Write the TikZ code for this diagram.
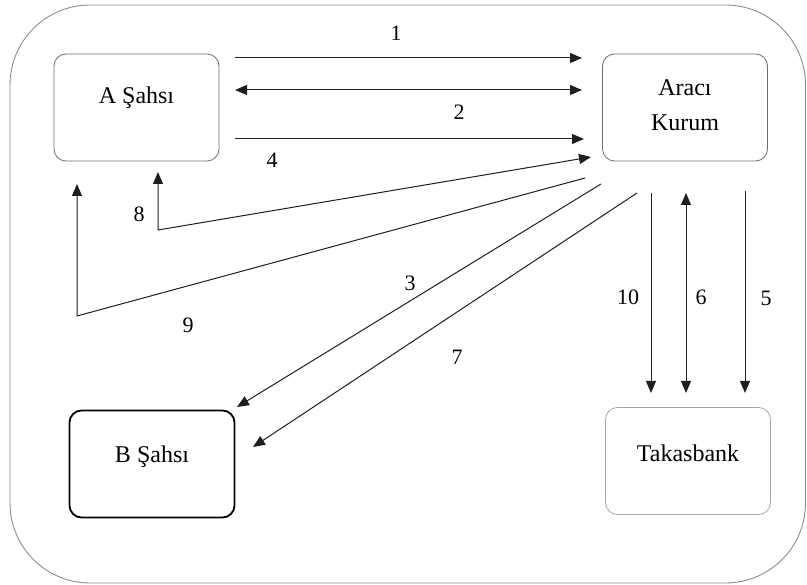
\documentclass[tikz,border=0pt]{standalone}
\usepackage{fontspec}
\setmainfont{Liberation Serif}
\usetikzlibrary{arrows.meta}
\definecolor{framegray}{RGB}{140,140,140}
\definecolor{boxgray}{RGB}{110,110,110}
\definecolor{lightgray}{RGB}{165,165,165}
\definecolor{arrowgray}{RGB}{30,30,30}

\begin{document}
\begin{tikzpicture}[x=1pt,y=-1pt,
		>={Triangle[length=12pt,width=10pt]},
		box/.style={draw=boxgray,rounded corners=12pt,minimum width=\bw pt,minimum height=\bh pt,line width=0.8pt},
		boxlabel/.style={font=\fontsize{24}{35}\selectfont,align=center,inner sep=0pt},
		numlabel/.style={font=\fontsize{22}{24}\selectfont,inner sep=0pt},
		flow/.style={arrowgray,line width=1pt}]
			\pgfmathsetmacro{\bw}{165}
			\pgfmathsetmacro{\bh}{107}
			\useasboundingbox (0,0) rectangle (807,585);
			\draw[framegray,line width=0.9pt,rounded corners=80pt] (10,5) rectangle (805.5,583);
			% boxes
			\node[box] (A) at (136.5,107.5) {};
			\node[box] (K) at (685,107.5) {};
			\node[box,draw=black,line width=1.8pt] (B) at (152,464) {};
			\node[box,draw=lightgray] (T) at (688,461) {};
			\node[boxlabel] (Atxt) at ([yshift=10pt]A.center) {A Şahsı};
			\node[boxlabel] (Ktxt) at ([yshift=2pt]K.center) {Aracı\\Kurum};
			\node[boxlabel] (Btxt) at ([yshift=7pt]B.center) {B Şahsı};
			\node[boxlabel] (Ttxt) at ([yshift=8pt]T.center) {Takasbank};
			% end points
			\coordinate (s1) at (235,58);   \coordinate (e1) at (582,58);
			\coordinate (s2) at (235,90);   \coordinate (e2) at (582,90);
			\coordinate (s4) at (235,139);  \coordinate (e4) at (584,139);
			\coordinate (s8) at (591,157);  \coordinate (m8) at (158,230);  \coordinate (e8) at (158,172);
			\coordinate (s9) at (585,178);  \coordinate (m9) at (77,316);   \coordinate (e9) at (77,184);
			\coordinate (s3) at (601,184);  \coordinate (e3) at (237,407);
			\coordinate (s7) at (637,193);  \coordinate (e7) at (253,447);
			\coordinate (s10) at (651,193); \coordinate (e10) at (651,393);
			\coordinate (s6) at (686,193);  \coordinate (e6) at (686,393);
			\coordinate (s5) at (745,191);  \coordinate (e5) at (745,393);
			% flows
			\draw[flow,->] (s1) -- (e1);
			\draw[flow,<->] (s2) -- (e2);
			\draw[flow,->] (s4) -- (e4);
			\draw[flow,<->] (s8) -- (m8) -- (e8);
			\draw[flow,->] (s9) -- (m9) -- (e9);
			\draw[flow,->] (s3) -- (e3);
			\draw[flow,->] (s7) -- (e7);
			\draw[flow,->] (s10) -- (e10);
			\draw[flow,<->] (s6) -- (e6);
			\draw[flow,->] (s5) -- (e5);
			% numbers
			\node[numlabel] (n1) at (396,33) {1};
			\node[numlabel] (n2) at (459,112) {2};
			\node[numlabel] (n4) at (272,160) {4};
			\node[numlabel] (n8) at (139,214) {8};
			\node[numlabel] (n9) at (188,325) {9};
			\node[numlabel] (n3) at (410,283) {3};
			\node[numlabel] (n7) at (457,357) {7};
			\node[numlabel] (n10) at (628,297) {10};
			\node[numlabel] (n6) at (701,297) {6};
			\node[numlabel] (n5) at (766,298) {5};
		\end{tikzpicture}
\end{document}
